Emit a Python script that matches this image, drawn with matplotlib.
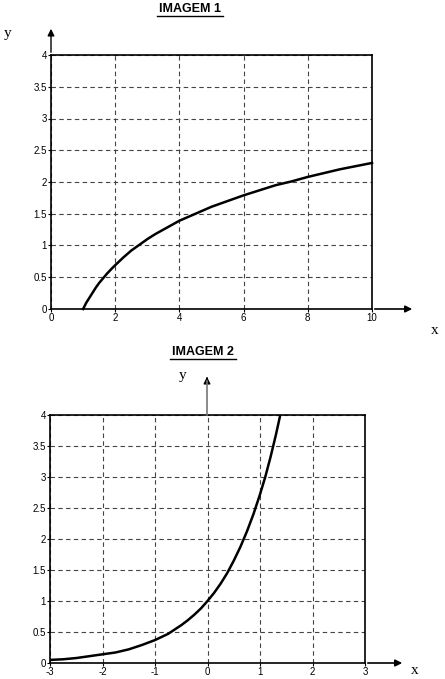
import matplotlib
matplotlib.use("Agg")
import matplotlib.pyplot as plt

plt.rcParams['font.family'] = ['Liberation Sans', 'DejaVu Sans']

# Image 1 data
x1_ticks = [0, 2, 4, 6, 8, 10]
y_ticks = [0, 0.5, 1, 1.5, 2, 2.5, 3, 3.5, 4]
y_ticklabels = ['0', '0.5', '1', '1.5', '2', '2.5', '3', '3.5', '4']
x1 = [1.0, 1.02, 1.05, 1.1, 1.15, 1.2, 1.3, 1.4, 1.5, 1.6, 1.75, 1.9, 2.0, 2.25, 2.5, 2.75, 3.0, 3.25,
      3.5, 3.75, 4.0, 4.5, 5.0, 5.5, 6.0, 6.5, 7.0, 7.5, 8.0, 8.5, 9.0, 9.5, 10.0]
y1 = [0.0, 0.02, 0.05, 0.10, 0.14, 0.18, 0.26, 0.34, 0.41, 0.47, 0.56, 0.64, 0.69, 0.81, 0.92, 1.01,
      1.10, 1.18, 1.25, 1.32, 1.39, 1.50, 1.61, 1.70, 1.79, 1.87, 1.95, 2.01, 2.08, 2.14, 2.20, 2.25, 2.30]

# Image 2 data
x2_ticks = [-3, -2, -1, 0, 1, 2, 3]
x2 = [-3.0, -2.75, -2.5, -2.25, -2.0, -1.75, -1.5, -1.25, -1.0, -0.875, -0.75, -0.625, -0.5, -0.375,
      -0.25, -0.125, 0.0, 0.125, 0.25, 0.375, 0.5, 0.625, 0.75, 0.875, 1.0, 1.1, 1.2, 1.3, 1.386]
y2 = [0.05, 0.06, 0.08, 0.11, 0.14, 0.17, 0.22, 0.29, 0.37, 0.42, 0.47, 0.54, 0.61, 0.69, 0.78, 0.88,
      1.0, 1.13, 1.28, 1.45, 1.65, 1.87, 2.12, 2.40, 2.72, 3.0, 3.32, 3.67, 4.0]

W, H = 445, 679
fig = plt.figure(figsize=(W / 100, H / 100), dpi=100)


def make_ax(left, right, top, bottom):
    return fig.add_axes([left / W, 1 - bottom / H, (right - left) / W, (bottom - top) / H])


def style(ax, xlim, xticks):
    ax.set_xlim(*xlim)
    ax.set_ylim(0, 4)
    ax.set_xticks(xticks)
    ax.set_xticklabels([str(t) for t in xticks], fontsize=7)
    ax.set_yticks(y_ticks)
    ax.set_yticklabels(y_ticklabels, fontsize=7)
    ax.tick_params(length=2, pad=1, width=0.8)
    ax.grid(True, linestyle=(0, (4, 3)), color='#444444', linewidth=0.8)
    for s in ax.spines.values():
        s.set_linewidth(1.2)
        s.set_color('black')
    ax.set_axisbelow(True)


# ---- Image 1 ----
ax1 = make_ax(51, 372, 55, 309)
style(ax1, (0, 10), x1_ticks)
ax1.plot(x1, y1, color='black', linewidth=1.8, clip_on=False, solid_joinstyle='round')
ax1.annotate('', xy=(415 / W, 1 - 309 / H), xytext=(372 / W, 1 - 309 / H), xycoords='figure fraction',
             arrowprops=dict(arrowstyle='-|>', color='black', lw=1.2, mutation_scale=10))
ax1.annotate('', xy=(51 / W, 1 - 26 / H), xytext=(51 / W, 1 - 55 / H), xycoords='figure fraction',
             arrowprops=dict(arrowstyle='-|>', color='black', lw=1.0, mutation_scale=10))
fig.text(190 / W, 1 - 9 / H, 'IMAGEM 1', fontsize=9, fontweight='bold', ha='center', va='center')
fig.add_artist(plt.Line2D([157 / W, 223 / W], [1 - 16 / H, 1 - 16 / H], color='black', lw=1.0))
fig.text(8 / W, 1 - 33 / H, 'y', fontsize=11, family='Liberation Serif', ha='center', va='center')
fig.text(435 / W, 1 - 330 / H, 'x', fontsize=11, family='Liberation Serif', ha='center', va='center')

# ---- Image 2 ----
ax2 = make_ax(50, 365, 415, 663)
style(ax2, (-3, 3), x2_ticks)
ax2.plot(x2, y2, color='black', linewidth=1.8, solid_joinstyle='round')
ax2.annotate('', xy=(405 / W, 1 - 663 / H), xytext=(365 / W, 1 - 663 / H), xycoords='figure fraction',
             arrowprops=dict(arrowstyle='-|>', color='black', lw=1.2, mutation_scale=10))
fig.add_artist(plt.Line2D([207 / W, 207 / W], [1 - 415 / H, 1 - 381 / H], color='#777777', lw=1.2))
ax2.annotate('', xy=(207 / W, 1 - 374 / H), xytext=(207 / W, 1 - 382 / H), xycoords='figure fraction',
             arrowprops=dict(arrowstyle='-|>', color='black', lw=1.0, mutation_scale=10))
fig.text(203 / W, 1 - 352 / H, 'IMAGEM 2', fontsize=9, fontweight='bold', ha='center', va='center')
fig.add_artist(plt.Line2D([170 / W, 236 / W], [1 - 359 / H, 1 - 359 / H], color='black', lw=1.0))
fig.text(183 / W, 1 - 375 / H, 'y', fontsize=11, family='Liberation Serif', ha='center', va='center')
fig.text(415 / W, 1 - 670 / H, 'x', fontsize=11, family='Liberation Serif', ha='center', va='center')

fig.savefig('out.png', dpi=100)
